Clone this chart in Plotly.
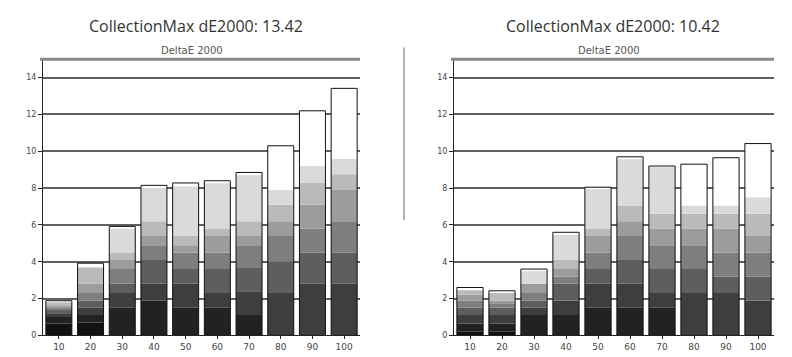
import plotly.graph_objects as go

categories = ["10", "20", "30", "40", "50", "60", "70", "80", "90", "100"]
y_ticks = [0, 2, 4, 6, 8, 10, 12, 14]
band_colors = ["#111111", "#222222", "#3e3e3e", "#5e5e5e", "#7e7e7e", "#9c9c9c", "#bababa", "#dadada"]

# cumulative band tops per shade level (dark -> light), left chart
left_bands = [
    [0.65, 1.0, 1.2, 1.4, 1.5, 1.6, 1.8, 1.8],
    [0.7, 1.1, 1.5, 1.9, 2.3, 2.8, 3.7, 3.7],
    [0.0, 1.5, 2.3, 2.8, 3.6, 4.1, 4.5, 5.8],
    [0.0, 1.9, 2.8, 4.1, 4.9, 5.4, 6.2, 8.0],
    [0.0, 1.5, 2.8, 3.6, 4.5, 4.9, 5.4, 8.1],
    [0.0, 1.5, 2.3, 3.6, 4.5, 5.4, 5.8, 8.3],
    [0.0, 1.1, 2.4, 3.7, 4.9, 5.4, 6.2, 8.75],
    [0.0, 0.0, 2.3, 4.0, 5.4, 6.2, 7.1, 7.9],
    [0.0, 0.0, 2.8, 4.5, 5.8, 7.1, 8.3, 9.2],
    [0.0, 0.0, 2.8, 4.5, 6.2, 7.9, 8.75, 9.6],
]
left_max = [1.88, 3.92, 5.92, 8.15, 8.28, 8.4, 8.85, 10.3, 12.2, 13.42]

right_bands = [
    [0.2, 0.65, 1.1, 1.5, 1.9, 2.2, 2.5, 2.5],
    [0.2, 0.65, 1.1, 1.5, 1.7, 1.9, 2.3, 2.3],
    [0.0, 1.1, 1.5, 1.9, 2.3, 2.8, 2.8, 3.5],
    [0.0, 1.1, 1.9, 2.8, 3.2, 3.6, 4.1, 5.45],
    [0.0, 1.5, 2.8, 3.6, 4.5, 5.4, 5.8, 7.95],
    [0.0, 1.5, 2.8, 4.1, 5.4, 6.2, 7.05, 9.6],
    [0.0, 1.5, 2.3, 3.6, 4.9, 5.8, 6.6, 9.15],
    [0.0, 0.0, 2.3, 3.6, 4.9, 5.8, 6.6, 7.05],
    [0.0, 0.0, 2.3, 3.2, 4.5, 5.8, 6.6, 7.05],
    [0.0, 0.0, 1.9, 3.2, 4.5, 5.4, 6.6, 7.5],
]
right_max = [2.6, 2.42, 3.6, 5.6, 8.05, 9.7, 9.2, 9.3, 9.65, 10.42]

titles = ["CollectionMax dE2000: 13.42", "CollectionMax dE2000: 10.42"]
subtitle = "DeltaE 2000"

W, H = 792, 357
BAR_W = 0.82
fig = go.Figure()


def add_chart(bands, maxes, xa, ya):
    n_levels = len(band_colors)
    for lvl in range(n_levels):
        bases, heights = [], []
        for b in bands:
            lo = b[lvl - 1] if lvl > 0 else 0.0
            hi = b[lvl]
            if hi > 0:
                bases.append(min(lo, hi))
                heights.append(max(hi - lo, 0.0))
            else:
                bases.append(0.0)
                heights.append(0.0)
        fig.add_trace(go.Bar(x=categories, y=heights, base=bases, width=BAR_W,
                             marker=dict(color=band_colors[lvl], line=dict(width=0)),
                             xaxis=xa, yaxis=ya, showlegend=False, hoverinfo="skip"))
    cap_base = [b[-1] for b in bands]
    cap_h = [m - c for m, c in zip(maxes, cap_base)]
    fig.add_trace(go.Bar(x=categories, y=cap_h, base=cap_base, width=BAR_W,
                         marker=dict(color="#ffffff", line=dict(width=0)),
                         xaxis=xa, yaxis=ya, showlegend=False, hoverinfo="skip"))
    fig.add_trace(go.Bar(x=categories, y=maxes, base=[0] * len(maxes), width=BAR_W,
                         marker=dict(color="rgba(0,0,0,0)", line=dict(width=1, color="#111111")),
                         xaxis=xa, yaxis=ya, showlegend=False, hoverinfo="skip"))


add_chart(left_bands, left_max, "x", "y")
add_chart(right_bands, right_max, "x2", "y2")

ybot = 1 - 332 / H
ytop = 1 - 52 / H
xdom1 = [35 / W, 352 / W]
xdom2 = [446 / W, 766 / W]

axis_y = dict(range=[0, 15], tickvals=y_ticks, showgrid=True, gridcolor="#606060", gridwidth=2,
              showline=True, linecolor="#222222", linewidth=1, ticks="outside", ticklen=4,
              tickcolor="#222222", tickfont=dict(size=8, color="#444444", family="DejaVu Sans"),
              zeroline=False, domain=[ybot, ytop], fixedrange=True)
axis_x = dict(showgrid=False, showline=True, linecolor="#222222", linewidth=1, ticks="outside",
              ticklen=3, tickcolor="#222222", tickfont=dict(size=9, color="#444444", family="DejaVu Sans"),
              range=[-0.5, 9.5], fixedrange=True)

fig.update_layout(
    width=W, height=H, margin=dict(l=0, r=0, t=0, b=0),
    paper_bgcolor="white", plot_bgcolor="white", barmode="overlay",
    xaxis=dict(axis_x, domain=xdom1, anchor="y"),
    yaxis=dict(axis_y, anchor="x"),
    xaxis2=dict(axis_x, domain=xdom2, anchor="y2"),
    yaxis2=dict(axis_y, anchor="x2"),
)

for i, (dom, cx_t, cx_s) in enumerate([(xdom1, 188, 184), (xdom2, 605, 601)]):
    fig.add_annotation(x=cx_t / W, y=1 - 18 / H, xref="paper", yref="paper", text=titles[i],
                       showarrow=False, font=dict(size=16, color="#333333", family="Open Sans"),
                       xanchor="center", yanchor="middle")
    fig.add_annotation(x=cx_s / W, y=1 - 43 / H, xref="paper", yref="paper", text=subtitle,
                       showarrow=False, font=dict(size=10, color="#555555", family="DejaVu Sans"),
                       xanchor="center", yanchor="middle")
    fig.add_shape(type="line", xref="paper", yref="paper", x0=dom[0] - 3 / W, x1=dom[1],
                  y0=ytop, y1=ytop, line=dict(color="#8a8a8a", width=3))

fig.add_shape(type="line", xref="paper", yref="paper", x0=396 / W, x1=396 / W,
              y0=1 - 40 / H, y1=1 - 215 / H, line=dict(color="#999999", width=1.5))

fig.write_html("out.html")
